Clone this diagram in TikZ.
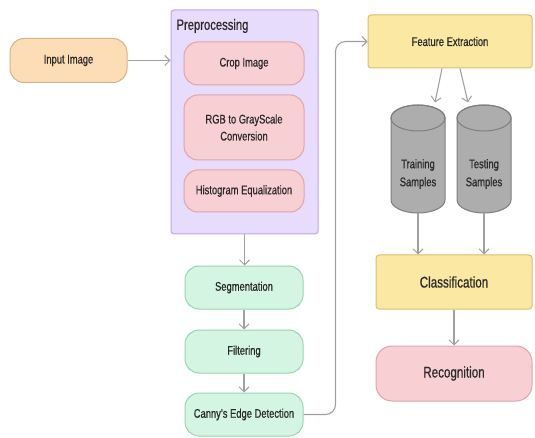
\documentclass[tikz,border=0pt]{standalone}
\usepackage{fontspec}
\setmainfont[FakeStretch=0.75,FakeBold=0.6]{Liberation Sans}
\usetikzlibrary{arrows.meta}
\definecolor{txt}{HTML}{2A2A2A}
\definecolor{peachF}{HTML}{FDDDB6}
\definecolor{peachD}{HTML}{D8B287}
\definecolor{lavF}{HTML}{E8DCFC}
\definecolor{lavD}{HTML}{BFA5EC}
\definecolor{pinkF}{HTML}{F8D0D4}
\definecolor{pinkD}{HTML}{DFA3AA}
\definecolor{greenF}{HTML}{D3F5E2}
\definecolor{greenD}{HTML}{9CD3B2}
\definecolor{yelF}{HTML}{FBE8A3}
\definecolor{yelD}{HTML}{DCC06A}
\definecolor{cylF}{HTML}{ADADAD}
\definecolor{cylD}{HTML}{7E7E7E}
\definecolor{arr}{HTML}{A0A0A0}
\tikzset{
  base/.style={inner sep=0pt, align=center, text=txt, font=\fontsize{12.5}{15}\selectfont, line width=1pt},
  pill/.style={base, rounded corners=14pt},
  peachbox/.style={pill, fill=peachF, draw=peachD},
  pinkbox/.style={pill, fill=pinkF, draw=pinkD},
  greenbox/.style={pill, fill=greenF, draw=greenD},
  yelbox/.style={base, rounded corners=3pt, fill=yelF, draw=yelD},
  groupbox/.style={base, rounded corners=3pt, fill=lavF, draw=lavD},
  cylnode/.style={base, draw=none, minimum width=54pt, minimum height=108pt},
  conn/.style={draw=arr, line width=1.1pt, -{Straight Barb[length=5pt,width=10pt,line width=1pt]}},
}
\begin{document}
\begin{tikzpicture}[x=1pt,y=1pt]
\useasboundingbox[fill=white] (0,0) rectangle (535,-438);

% Preprocessing group
\node[groupbox, minimum width=147pt, minimum height=224pt] (pre) at (244.5,-122) {};
\node[base, anchor=west, font=\fontsize{15}{18}\selectfont] (pretitle) at (176,-26) {Preprocessing};

\node[peachbox, minimum width=117pt, minimum height=44pt] (in) at (68.5,-60.5) {Input Image};
\node[pinkbox, minimum width=120pt, minimum height=43pt] (crop) at (244,-63.5) {Crop Image};
\node[pinkbox, minimum width=120pt, minimum height=65pt] (rgb) at (244,-127.5) {RGB to GrayScale\\[2pt]Conversion};
\node[pinkbox, minimum width=120pt, minimum height=42pt] (hist) at (244,-191) {Histogram Equalization};

\node[greenbox, minimum width=118pt, minimum height=43pt] (seg) at (244,-287.5) {Segmentation};
\node[greenbox, minimum width=118pt, minimum height=43pt] (filt) at (244,-351.5) {Filtering};
\node[greenbox, minimum width=118pt, minimum height=43pt] (canny) at (244,-414.5) {Canny's Edge Detection};

\node[yelbox, minimum width=164pt, minimum height=53pt] (fe) at (450,-41.5) {Feature Extraction};

% cylinders
\foreach \c in {418,484}{
  \filldraw[fill=cylF, draw=cylD, line width=1pt]
    (\c-27,-118) -- (\c-27,-200) arc[start angle=180,end angle=360,x radius=27,y radius=13]
    -- (\c+27,-118) arc[start angle=0,end angle=180,x radius=27,y radius=13] -- cycle;
  \draw[cylD, line width=1pt] (\c,-118) ellipse[x radius=27, y radius=13];
}
\node[cylnode] (tr) at (418,-159) {};
\node[cylnode] (te) at (484,-159) {};
\node[base] (trt) at (418,-174) {Training\\[3pt]Samples};
\node[base] (tet) at (484,-174) {Testing\\[3pt]Samples};

\node[yelbox, minimum width=156pt, minimum height=54pt, font=\fontsize{15.5}{18}\selectfont] (cls) at (454,-282) {Classification};
\node[pinkbox, rounded corners=16pt, minimum width=156pt, minimum height=55pt, font=\fontsize{15.5}{18}\selectfont] (rec) at (454,-373.5) {Recognition};

% connectors
\draw[conn] (in.east) -- (in.east -| pre.west);
\draw[conn] (pre.south) -- (pre.south |- seg.north);
\draw[conn] (seg) -- (filt);
\draw[conn] (filt) -- (canny);
\draw[conn, rounded corners=10pt] (canny.east) -- ++(32,0) |- (fe.west);
\draw[conn] ([xshift=-8pt]fe.south) -- ([xshift=17pt,yshift=2pt]tr.north);
\draw[conn] ([xshift=10pt]fe.south) -- ([xshift=-16pt,yshift=2pt]te.north);
\draw[conn] (tr.south) -- (tr.south |- cls.north);
\draw[conn] (te.south) -- (te.south |- cls.north);
\draw[conn] (cls) -- (rec);
\end{tikzpicture}
\end{document}
